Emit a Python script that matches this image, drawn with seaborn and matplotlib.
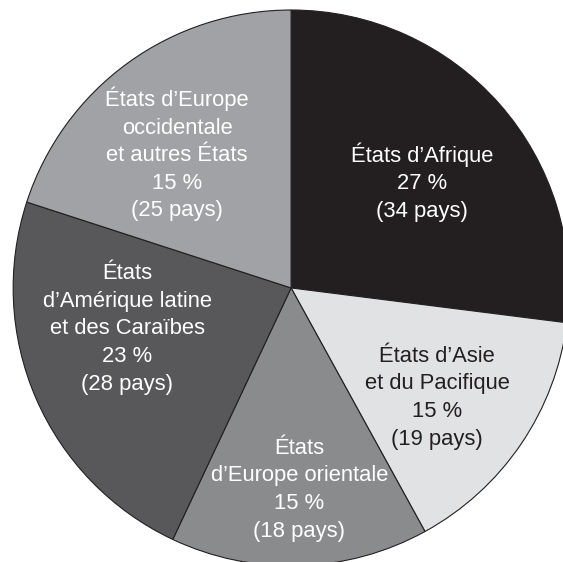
import matplotlib
matplotlib.use("Agg")
import matplotlib.pyplot as plt
import seaborn as sns

# ---- data ----
groups = [
    "États d’Afrique",
    "États d’Asie\net du Pacifique",
    "États\nd’Europe orientale",
    "États\nd’Amérique latine\net des Caraïbes",
    "États d’Europe\noccidentale\net autres États",
]
shares = [27, 15, 15, 23, 20]          # wedge sizes as drawn (share of seats)
pct_text = ["27 %", "15 %", "15 %", "23 %", "15 %"]
countries = [34, 19, 18, 28, 25]

# ---- style ----
colors = ["#231f20", "#e1e2e3", "#8a8b8d", "#58585a", "#a1a2a5"]
text_colors = ["white", "#231f20", "white", "white", "white"]
label_xy = [(0.472, 0.385), (0.525, -0.385), (0.03, -0.716),
            (-0.59, -0.137), (-0.41, 0.486)]
LINE_STEP = 19.9   # points between baselines
CAP_HALF = 6.0     # points, half cap height

sns.set_style("white")
plt.rcParams["font.family"] = ["Liberation Sans", "DejaVu Sans"]

fig = plt.figure(figsize=(5.63, 5.62), dpi=100)
ax = fig.add_axes([0, 0, 1, 1])
ax.pie(shares, colors=colors, startangle=90, counterclock=False,
       wedgeprops=dict(edgecolor="#231f20", linewidth=0.8))

for g, p, n, (x, y), c in zip(groups, pct_text, countries, label_xy, text_colors):
    lines = g.split("\n") + [p, f"({n} pays)"]
    k = len(lines)
    for i, line in enumerate(lines):
        dy = -(i - (k - 1) / 2) * LINE_STEP - CAP_HALF
        ax.annotate(line, xy=(x, y), xytext=(0, dy), textcoords="offset points",
                    ha="center", va="baseline", color=c, fontsize=15.8)

ax.set_xlim(-1.047, 0.978)
ax.set_ylim(-0.986, 1.036)
ax.set_aspect("equal", adjustable="box")
ax.axis("off")
fig.savefig("out.png", dpi=100, facecolor="white")
